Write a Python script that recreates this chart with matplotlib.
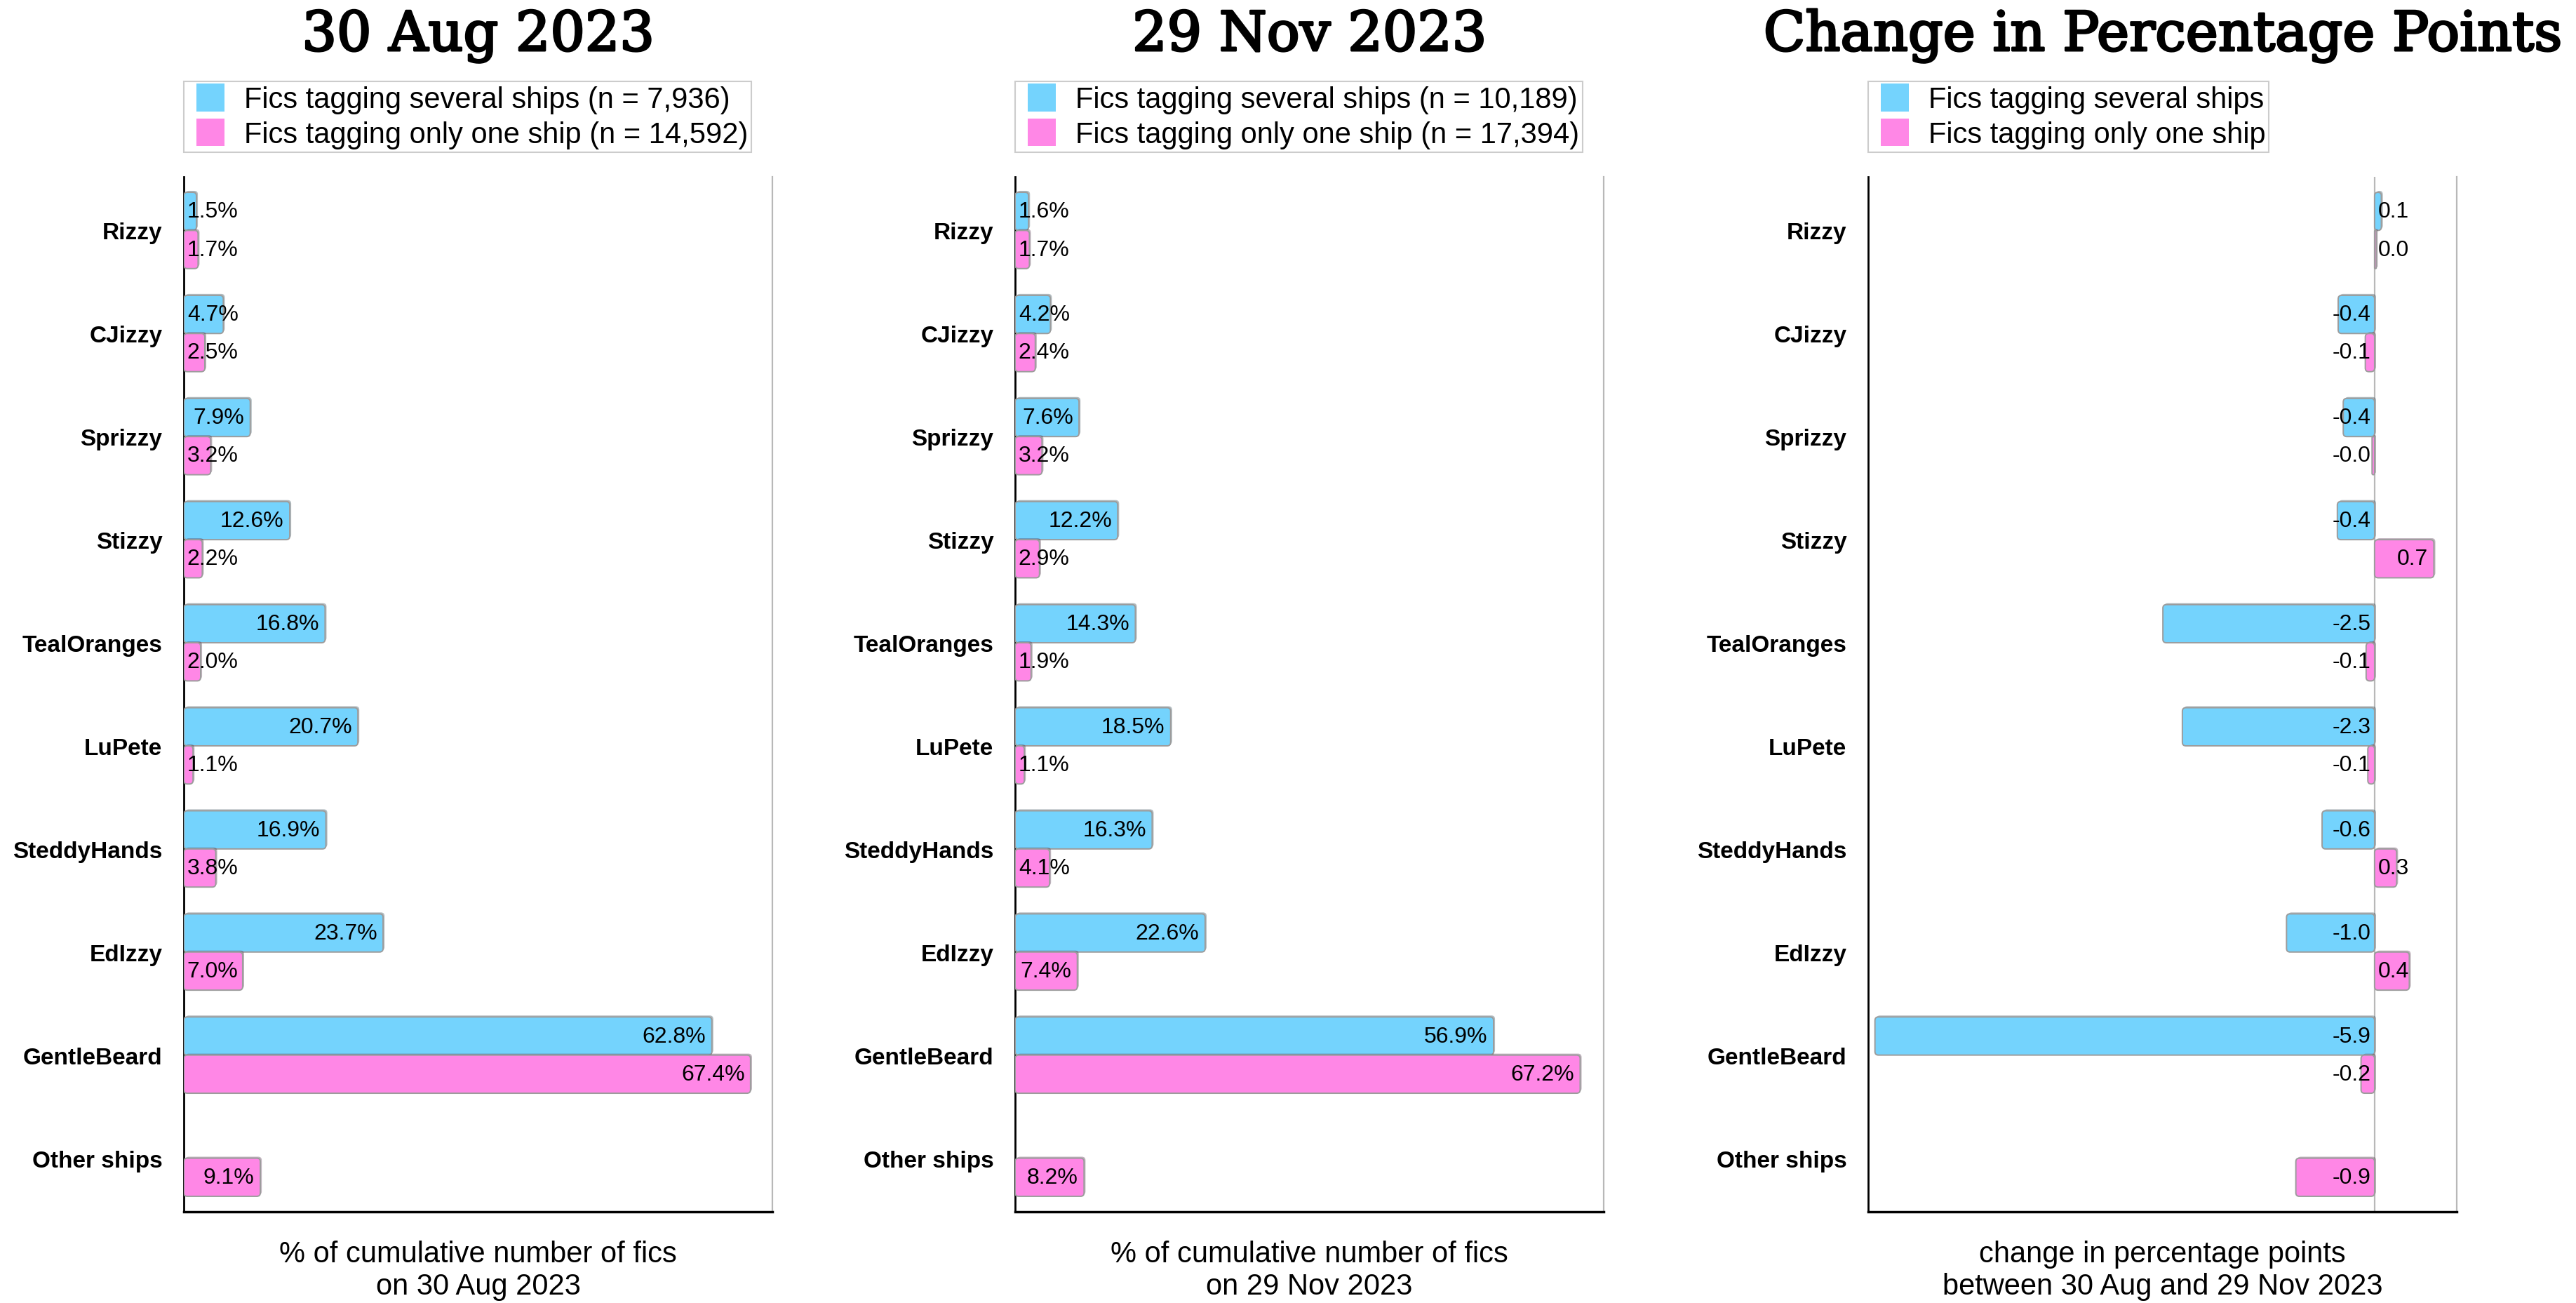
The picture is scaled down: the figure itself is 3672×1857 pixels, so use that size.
import numpy as np
import matplotlib.pyplot as plt
import matplotlib.patheffects as pe
from matplotlib.patches import FancyBboxPatch, Patch, Rectangle
from matplotlib.legend_handler import HandlerPatch

# ---- data -------------------------------------------------------------
ships = ["Rizzy", "CJizzy", "Sprizzy", "Stizzy", "TealOranges", "LuPete",
         "SteddyHands", "EdIzzy", "GentleBeard", "Other ships"]

aug_several = [1.5, 4.7, 7.9, 12.6, 16.8, 20.7, 16.9, 23.7, 62.8, np.nan]
aug_one = [1.7, 2.5, 3.2, 2.2, 2.0, 1.1, 3.8, 7.0, 67.4, 9.1]

nov_several = [1.6, 4.2, 7.6, 12.2, 14.3, 18.5, 16.3, 22.6, 56.9, np.nan]
nov_one = [1.7, 2.4, 3.2, 2.9, 1.9, 1.1, 4.1, 7.4, 67.2, 8.2]

# change in percentage points (Nov - Aug)
chg_several = [0.08, -0.43, -0.37, -0.44, -2.50, -2.27, -0.62, -1.04, -5.90, np.nan]
chg_one = [0.02, -0.11, -0.03, 0.70, -0.10, -0.08, 0.26, 0.41, -0.16, -0.93]

n_aug = (7936, 14592)
n_nov = (10189, 17394)

titles = ["30 Aug 2023", "29 Nov 2023", "Change in Percentage Points"]
xlabels = ["% of cumulative number of fics\non 30 Aug 2023",
           "% of cumulative number of fics\non 29 Nov 2023",
           "change in percentage points\nbetween 30 Aug and 29 Nov 2023"]

BLUE = "#74D3FD"
PINK = "#FF87E6"
SANS = "Liberation Sans"
SERIF = "DejaVu Serif"


def square_handle(legend, orig_handle, xdescent, ydescent, width, height, fontsize):
    # square swatch pushed to the right end of the handle box
    sq = 0.95 * fontsize
    return Rectangle((-xdescent + width - sq, -ydescent + (height - sq) / 2), sq, sq)


def round_bars(ax, bars, radius_px=5):
    """Swap the plain barh rectangles for rounded ones of the same size."""
    bb = ax.get_window_extent()
    x0, x1 = ax.get_xlim()
    y0, y1 = ax.get_ylim()
    x_per_px = abs(x1 - x0) / bb.width
    y_per_px = abs(y1 - y0) / bb.height
    aspect = y_per_px / x_per_px
    for rect in bars.patches:
        w = rect.get_width()
        if np.isnan(w):
            rect.remove()
            continue
        x = min(rect.get_x(), rect.get_x() + w)
        w = abs(w)
        h = rect.get_height()
        r = min(radius_px * x_per_px, w / 2, h / aspect / 2)
        box = FancyBboxPatch(
            (x, rect.get_y()), w, h,
            boxstyle=f"round,pad=0,rounding_size={r}",
            mutation_aspect=aspect,
            facecolor=rect.get_facecolor(), edgecolor="#9c9c9c", lw=1.4,
            zorder=3,
            path_effects=[pe.SimplePatchShadow(offset=(1.5, 1.5), alpha=0.35),
                          pe.Normal()])
        ax.add_patch(box)
        rect.remove()


def label_bars(ax, values, ys, fmt):
    renderer = ax.figure.canvas.get_renderer()
    zero_px = ax.transData.transform((0, 0))[0]
    for v, y in zip(values, ys):
        if np.isnan(v):
            continue
        txt = fmt.format(v)
        kw = dict(va="center", fontsize=23, family=SANS, zorder=5,
                  textcoords="offset points")
        if v < 0:
            ax.annotate(txt, (0, y), xytext=(-4, 0), ha="right", **kw)
            continue
        t = ax.annotate(txt, (v, y), xytext=(-6, 0), ha="right", **kw)
        if t.get_window_extent(renderer).x0 < zero_px + 3:
            t.remove()
            ax.annotate(txt, (0, y), xytext=(3.5, 0), ha="left", **kw)


fig = plt.figure(figsize=(36.72, 18.58), dpi=100)

panels = [
    (aug_several, aug_one, (0, 70), "{:.1f}%",
     [f"Fics tagging several ships (n = {n_aug[0]:,})",
      f"Fics tagging only one ship (n = {n_aug[1]:,})"]),
    (nov_several, nov_one, (0, 70), "{:.1f}%",
     [f"Fics tagging several ships (n = {n_nov[0]:,})",
      f"Fics tagging only one ship (n = {n_nov[1]:,})"]),
    (chg_several, chg_one, (-5.98, 0.97), "{:.1f}",
     ["Fics tagging several ships", "Fics tagging only one ship"]),
]
lefts = [262 / 3672, 1447 / 3672, 2663 / 3672]
width = 839 / 3672
bottom = 1 - 1728 / 1858
height = 1475 / 1858

y = np.arange(len(ships))
bh = 0.37

for i, (several, one, xlim, fmt, leg_labels) in enumerate(panels):
    ax = fig.add_axes([lefts[i], bottom, width, height])
    ax.set_xlim(*xlim)
    ax.set_ylim(len(ships) - 0.48, -0.52)

    b1 = ax.barh(y - bh / 2, several, height=bh, color=BLUE)
    b2 = ax.barh(y + bh / 2, one, height=bh, color=PINK)

    if xlim[0] < 0:
        ax.axvline(0, color="#b8b8b8", lw=1.6, zorder=1)

    ax.set_yticks(y)
    ax.set_yticklabels(ships, fontsize=24, fontweight="bold", family=SANS)
    ax.tick_params(axis="y", length=0, pad=22)
    ax.set_xticks([])
    ax.set_xlabel(xlabels[i], fontsize=30, family=SANS, labelpad=29,
                  linespacing=1.2)

    ax.spines["top"].set_visible(False)
    ax.spines["right"].set_color("#b8b8b8")
    ax.spines["right"].set_linewidth(1.6)
    ax.spines["left"].set_linewidth(2)
    ax.spines["bottom"].set_linewidth(2.5)

    proxies = [Patch(facecolor=BLUE), Patch(facecolor=PINK)]
    leg = ax.legend(proxies, leg_labels, loc="lower left",
                    bbox_to_anchor=(0, 1 + 35 / 1475), borderaxespad=0,
                    prop={"family": SANS, "size": 30}, fancybox=False,
                    edgecolor="#cccccc", framealpha=1, handlelength=1.27,
                    handleheight=0.95, handletextpad=0.67, borderpad=0.12,
                    labelspacing=0.2,
                    handler_map={Patch: HandlerPatch(patch_func=square_handle)})
    leg.get_frame().set_linewidth(1.5)

    round_bars(ax, b1)
    round_bars(ax, b2)
    label_bars(ax, several, y - bh / 2, fmt)
    label_bars(ax, one, y + bh / 2, fmt)

    fig.text(lefts[i] + width / 2, 1 - 73 / 1858, titles[i], ha="center",
             va="baseline", fontsize=56, family=SERIF,
             path_effects=[pe.withStroke(linewidth=2.2, foreground="black")])

fig.savefig("out.png", dpi=100)
